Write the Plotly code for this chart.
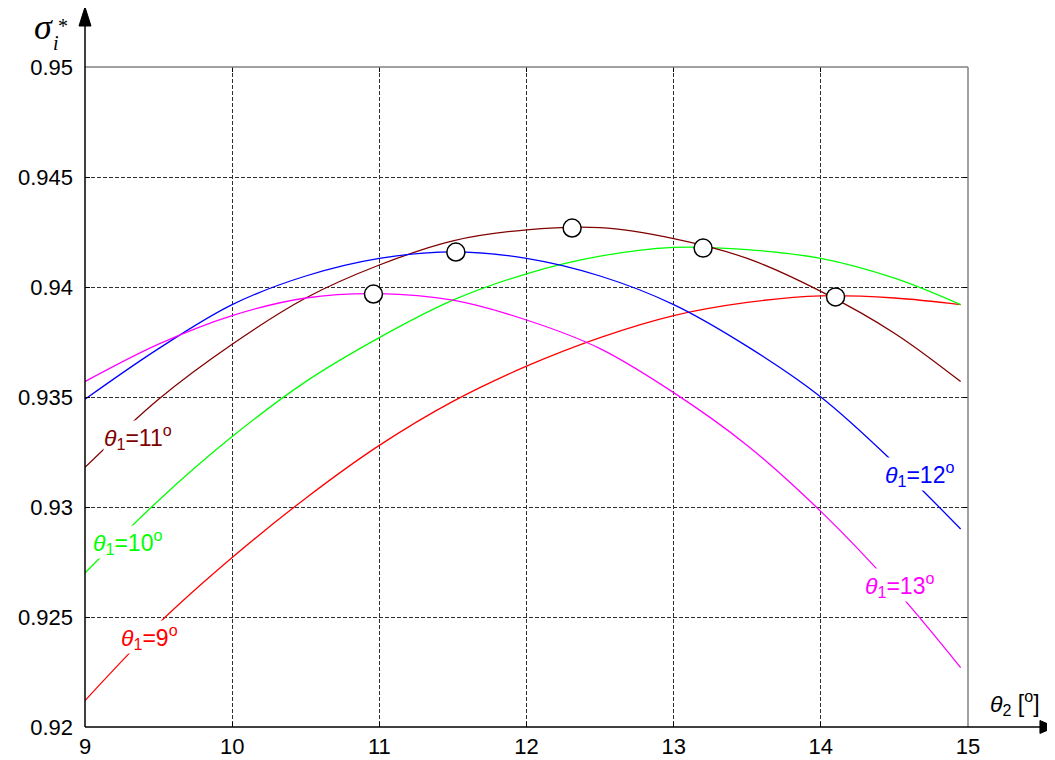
import plotly.graph_objects as go

# ---- data ----
theta2 = [9.0, 9.5, 10.0, 10.5, 11.0, 11.5, 12.0, 12.5, 13.0, 13.5, 14.0, 14.5, 14.95]

sigma_t9 = [0.9212, 0.9247, 0.9277, 0.9304, 0.9328, 0.9348, 0.9364, 0.9377, 0.9387, 0.9393, 0.9396, 0.9395, 0.9392]
sigma_t10 = [0.9270, 0.9303, 0.9332, 0.9357, 0.9377, 0.9394, 0.9406, 0.9414, 0.9418, 0.9417, 0.9413, 0.9404, 0.9392]
sigma_t11 = [0.9318, 0.9349, 0.9374, 0.9395, 0.9410, 0.9421, 0.9426, 0.9427, 0.9422, 0.9413, 0.9398, 0.9379, 0.9357]
sigma_t12 = [0.9349, 0.9372, 0.9392, 0.9405, 0.9413, 0.9416, 0.9413, 0.9405, 0.9392, 0.9373, 0.9350, 0.9320, 0.9290]
sigma_t13 = [0.9357, 0.9374, 0.9387, 0.9395, 0.9397, 0.9394, 0.9385, 0.9372, 0.9352, 0.9328, 0.9298, 0.9263, 0.9227]

opt_theta2 = [10.96, 11.52, 12.31, 13.20, 14.10]
opt_sigma = [0.93968, 0.94159, 0.94268, 0.94177, 0.93955]

x_ticks = [9, 10, 11, 12, 13, 14, 15]
x_ticklabels = ["9", "10", "11", "12", "13", "14", "15"]
y_ticks = [0.92, 0.925, 0.93, 0.935, 0.94, 0.945, 0.95]
y_ticklabels = ["0.92", "0.925", "0.93", "0.935", "0.94", "0.945", "0.95"]

series = [
    ("θ1=9°", sigma_t9, "#FF0000"),
    ("θ1=10°", sigma_t10, "#00FF00"),
    ("θ1=11°", sigma_t11, "#800000"),
    ("θ1=12°", sigma_t12, "#0000FF"),
    ("θ1=13°", sigma_t13, "#FF00FF"),
]

fig = go.Figure()
for name, ys, col in series:
    fig.add_trace(go.Scatter(x=theta2, y=ys, mode="lines", name=name,
                             line=dict(color=col, width=1.3, shape="spline", smoothing=1.0),
                             showlegend=False))

fig.add_trace(go.Scatter(x=opt_theta2, y=opt_sigma, mode="markers", showlegend=False,
                         marker=dict(size=18, color="white", line=dict(color="black", width=1.5))))

SERIF = "'Liberation Serif', 'Times New Roman', serif"
SANS = "'Liberation Sans', Arial, sans-serif"

def theta_label(num, col, x, y):
    txt = (f"<span style='font-family:{SERIF};font-size:25px'><i>θ</i></span><sub>1</sub>"
           f"={num}<sup>o</sup>")
    fig.add_annotation(x=x, y=y, xref="x", yref="y", text=txt, showarrow=False,
                       xanchor="left", yanchor="middle", bgcolor="white", borderpad=0,
                       font=dict(family=SANS, size=23, color=col))

theta_label(11, "#800000", 9.12, 0.93318)
theta_label(10, "#00FF00", 9.05, 0.92841)
theta_label(9, "#FF0000", 9.24, 0.92409)
theta_label(12, "#0000FF", 14.43, 0.93150)
theta_label(13, "#FF00FF", 14.29, 0.92645)

# axis titles
fig.add_annotation(x=-0.047, y=1.060, xref="paper", yref="paper", showarrow=False,
                   text="<i>σ</i>", xanchor="center", yanchor="middle",
                   font=dict(family=SERIF, size=36, color="black"))
fig.add_annotation(x=-0.0325, y=1.037, xref="paper", yref="paper", showarrow=False,
                   text="<i>i</i>", xanchor="center", yanchor="middle",
                   font=dict(family=SERIF, size=20, color="black"))
fig.add_annotation(x=-0.025, y=1.062, xref="paper", yref="paper", showarrow=False,
                   text="*", xanchor="center", yanchor="middle",
                   font=dict(family=SERIF, size=20, color="black"))
fig.add_annotation(x=1.023, y=0.036, xref="paper", yref="paper", showarrow=False,
                   text=f"<span style='font-family:{SERIF};font-size:29px'><i>θ</i></span><sub>2</sub> [<sup>o</sup>]",
                   xanchor="left", yanchor="middle",
                   font=dict(family=SANS, size=23, color="black"))

# frame: gray top/right, black arrows left/bottom
shapes = [
    dict(type="line", xref="paper", yref="paper", x0=0, x1=1, y0=1, y1=1,
         line=dict(color="#808080", width=1.5), layer="above"),
    dict(type="line", xref="paper", yref="paper", x0=1, x1=1, y0=0, y1=1,
         line=dict(color="#808080", width=1.5), layer="above"),
    dict(type="line", xref="paper", yref="paper", x0=0, x1=0, y0=0, y1=1.07,
         line=dict(color="black", width=1.5), layer="above"),
    dict(type="line", xref="paper", yref="paper", x0=0, x1=1.085, y0=0, y1=0,
         line=dict(color="black", width=1.5), layer="above"),
    dict(type="path", xref="paper", yref="paper",
         path="M -0.0068 1.0621 L 0.0068 1.0621 L 0 1.0909 Z",
         fillcolor="black", line=dict(color="black", width=1), layer="above"),
    dict(type="path", xref="paper", yref="paper",
         path="M 1.0815 -0.0098 L 1.0815 0.0098 L 1.0985 0 Z",
         fillcolor="black", line=dict(color="black", width=1), layer="above"),
]

# page body has an 8px default margin, so margins are shifted by 8px
fig.update_layout(
    width=1055, height=760,
    margin=dict(l=77, r=95, t=59, b=41, autoexpand=False),
    paper_bgcolor="white", plot_bgcolor="white",
    shapes=shapes,
    font=dict(family=SANS, size=22, color="black"),
    xaxis=dict(range=[9, 15], tickvals=x_ticks, ticktext=x_ticklabels, automargin=False,
               showgrid=True, gridcolor="#303030", griddash="4px,2px", gridwidth=1,
               zeroline=False, showline=False, ticks="inside", ticklen=5,
               tickcolor="black", mirror="ticks", ticklabelstandoff=4,
               tickfont=dict(family=SANS, size=22, color="black")),
    yaxis=dict(range=[0.92, 0.95], tickvals=y_ticks, ticktext=y_ticklabels, automargin=False,
               showgrid=True, gridcolor="#303030", griddash="4px,2px", gridwidth=1,
               zeroline=False, showline=False, ticks="inside", ticklen=5,
               tickcolor="black", mirror="ticks", ticklabelstandoff=11,
               tickfont=dict(family=SANS, size=22, color="black")),
)

fig.write_html("out.html")
